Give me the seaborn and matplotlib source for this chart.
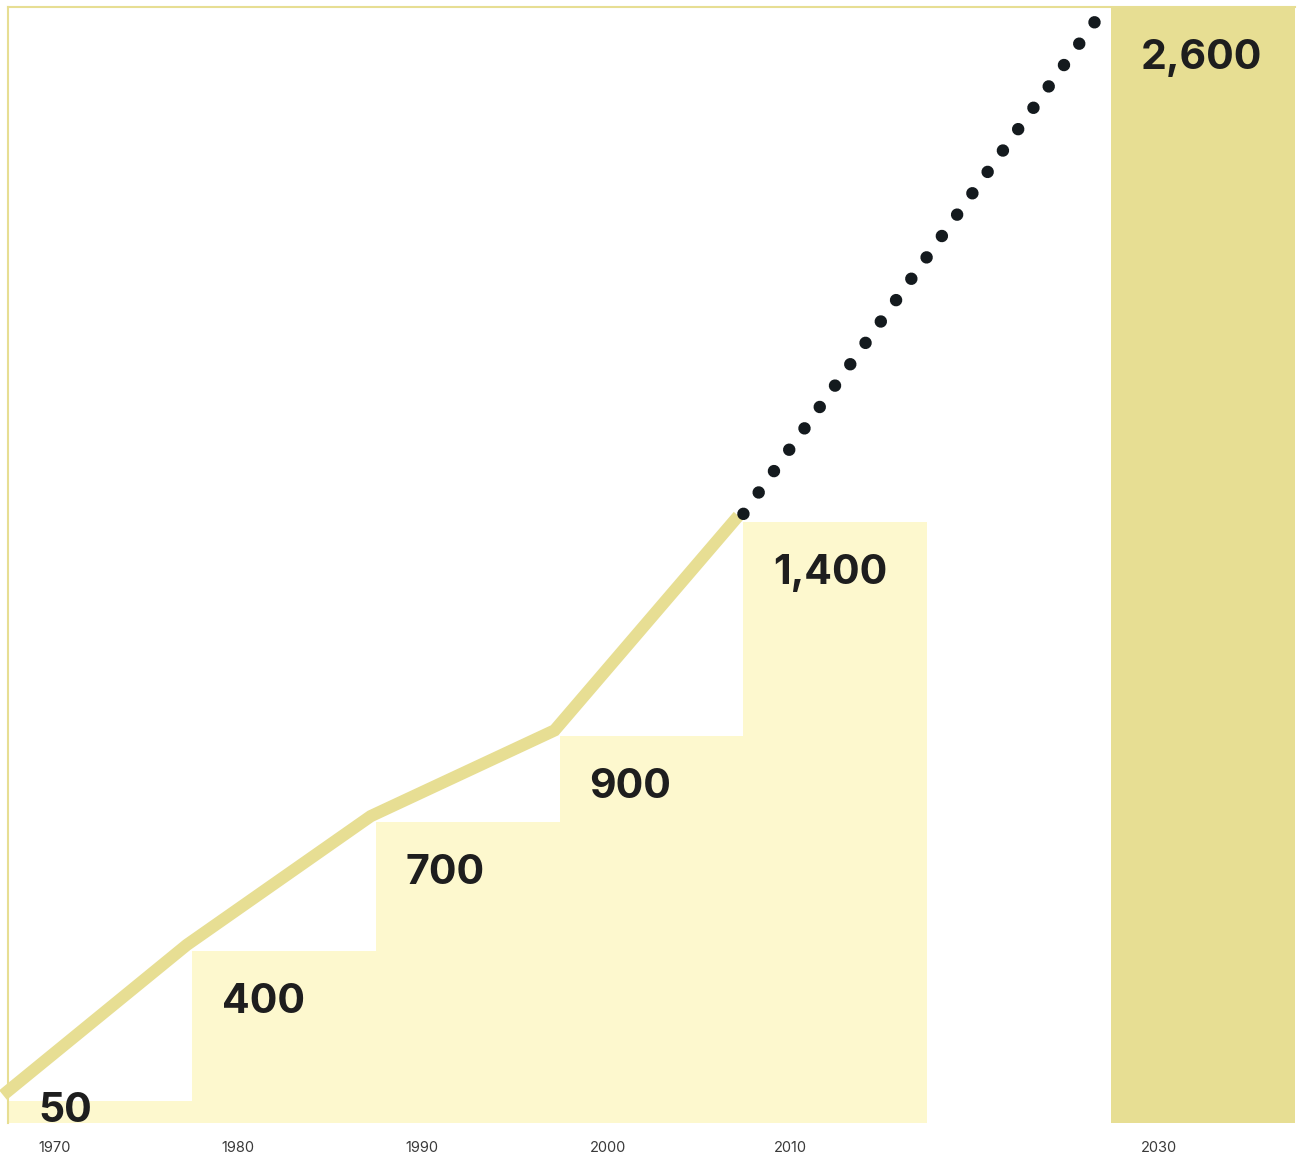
import matplotlib
matplotlib.use("Agg")
import matplotlib.pyplot as plt
import matplotlib.transforms as mtransforms
import seaborn as sns
import pandas as pd

years = ["1970", "1980", "1990", "2000", "2010", "2020", "2030"]
bar_years = ["1970", "1980", "1990", "2000", "2010", "2030"]
bar_values = [50, 400, 700, 900, 1400, 2600]
value_labels = ["50", "400", "700", "900", "1,400", "2,600"]
tick_labels = ["1970", "1980", "1990", "2000", "2010", "", "2030"]
# historical trend line (through bar top-left corners)
line_years = ["1970", "1980", "1990", "2000", "2010"]
line_values = [50, 400, 700, 900, 1400]
# projection
proj_years = ["2010", "2030"]
proj_values = [1400, 2600]

LIGHT = "#FDF8CE"
DARK = "#E7DE93"
DOT = "#141A1E"

sns.set_theme(style="white")
plt.rcParams["font.family"] = ["Inter", "DejaVu Sans"]

fig = plt.figure(figsize=(13.02, 11.56), dpi=100)
W, H = 1302, 1156
ax = fig.add_axes([8 / W, 1 - 1122.5 / H, (1295 - 8) / W, (1122.5 - 7) / H])

df = pd.DataFrame({"year": bar_years, "value": bar_values})
colors = {y: (DARK if y == "2030" else LIGHT) for y in bar_years}
sns.barplot(data=df, x="year", y="value", order=years, hue="year",
            palette=colors, width=1.0, legend=False, ax=ax,
            saturation=1, linewidth=0, zorder=1)

ax.set_xlim(-0.5, 6.5)
ax.set_ylim(0, 2600)

pos = {y: i for i, y in enumerate(years)}
shift = mtransforms.ScaledTranslation(-5 / 100, 6 / 100, fig.dpi_scale_trans)
shift_dots = mtransforms.ScaledTranslation(0 / 100, 8 / 100, fig.dpi_scale_trans)

lx = [pos[y] - 0.5 for y in line_years]
ax.plot(lx, line_values, color=DARK, lw=8.8, solid_joinstyle="miter",
        solid_capstyle="butt", transform=ax.transData + shift,
        clip_on=False, zorder=3)

px = [pos[y] - 0.5 for y in proj_years]
frac = 0.965
ax.plot([px[0], px[0] + (px[1] - px[0]) * frac],
        [proj_values[0], proj_values[0] + (proj_values[1] - proj_values[0]) * frac],
        color=DOT, lw=9.0, linestyle=(0, (0.001, 2.1)), dash_capstyle="round",
        transform=ax.transData + shift_dots, clip_on=False, zorder=4)

# value labels
for y, v, lab in zip(bar_years, bar_values, value_labels):
    x = pos[y] - 0.5
    if v < 150:
        ax.annotate(lab, (x, 0), xytext=(30, 0), textcoords="offset pixels",
                    ha="left", va="baseline", fontsize=29.5, fontweight="bold",
                    color="#1E1E1E", zorder=5)
    else:
        ax.annotate(lab, (x, v), xytext=(30, -32), textcoords="offset pixels",
                    ha="left", va="top", fontsize=29.5, fontweight="bold",
                    color="#1E1E1E", zorder=5)

slot_px = (1295 - 8) / 7
ax.set_xticks([pos[y] - 0.5 + 30 / slot_px for y in years])
ax.set_xticklabels(tick_labels, fontsize=10.5, color="#3A3A3A", ha="left")
ax.tick_params(axis="x", length=0, pad=13)
ax.set_yticks([])
ax.set_xlabel("")
ax.set_ylabel("")

for s in ["right", "bottom"]:
    ax.spines[s].set_visible(False)
for s in ["left", "top"]:
    ax.spines[s].set_color(DARK)
    ax.spines[s].set_linewidth(1.5)

fig.savefig("out.png", dpi=100)
